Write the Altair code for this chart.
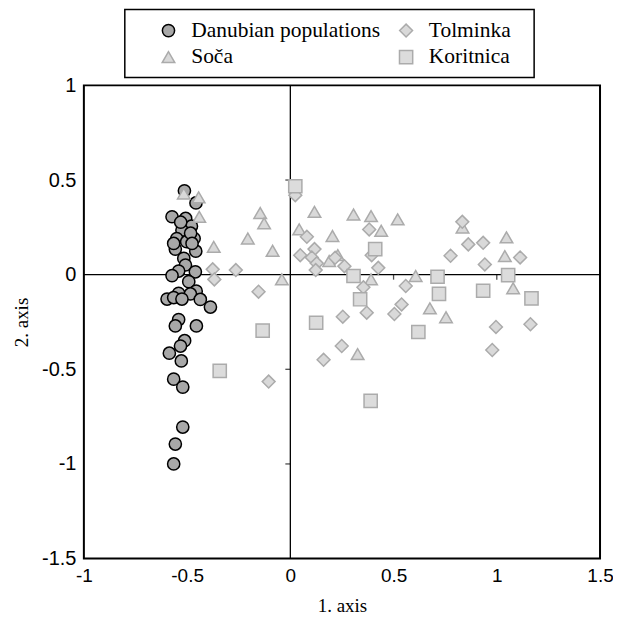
import altair as alt
import pandas as pd

# ---- data ----
danube_x = [-0.513, -0.457, -0.573, -0.507, -0.479, -0.525, -0.550, -0.466, -0.502, -0.557,
            -0.458, -0.565, -0.516, -0.508, -0.541, -0.460, -0.573, -0.492, -0.456, -0.541,
            -0.484, -0.597, -0.565, -0.525, -0.436, -0.387, -0.541, -0.557, -0.455, -0.512,
            -0.532, -0.586, -0.528, -0.565, -0.521, -0.521, -0.557, -0.565, -0.483, -0.531, -0.476]
danube_y = [0.443, 0.379, 0.306, 0.297, 0.256, 0.235, 0.191, 0.191, 0.174, 0.135,
            0.124, 0.165, 0.086, 0.051, 0.019, 0.015, -0.005, -0.037, -0.087, -0.099,
            -0.102, -0.129, -0.121, -0.129, -0.131, -0.171, -0.237, -0.271, -0.271, -0.349,
            -0.377, -0.415, -0.456, -0.552, -0.594, -0.805, -0.895, -1.0, 0.219, 0.277, 0.165]

tolminka_x = [-0.376, -0.264, -0.368, -0.154, 0.024, 0.080, 0.117, 0.048, 0.104, 0.128,
              0.123, 0.217, 0.262, 0.382, 0.394, 0.426, 0.354, 0.559, 0.539, 0.504,
              0.370, 0.254, 0.833, 0.862, 0.934, 0.776, 0.942, 1.113, 0.996, 1.163,
              0.249, 0.161, -0.105, 0.978]
tolminka_y = [0.028, 0.024, -0.025, -0.090, 0.420, 0.200, 0.135, 0.103, 0.091, 0.060,
              0.024, 0.089, 0.045, 0.239, 0.103, 0.036, -0.067, -0.060, -0.157, -0.208,
              -0.201, -0.222, 0.279, 0.160, 0.168, 0.100, 0.054, 0.091, -0.276, -0.262,
              -0.377, -0.450, -0.565, -0.398]

soca_x = [-0.516, -0.444, -0.441, -0.371, -0.206, -0.146, -0.127, 0.117, 0.306, 0.391,
          0.520, 0.043, 0.440, 0.204, -0.086, 0.230, 0.188, -0.041, 0.391, 0.607,
          0.834, 1.047, 1.039, 1.079, 0.676, 0.754, 0.326]
soca_y = [0.429, 0.408, 0.305, 0.147, 0.191, 0.326, 0.271, 0.332, 0.318, 0.309,
          0.292, 0.239, 0.232, 0.204, 0.126, 0.103, 0.072, -0.025, -0.025, -0.007,
          0.249, 0.197, 0.098, -0.072, -0.178, -0.225, -0.420]

koritnica_x = [0.024, 0.411, 0.306, 0.338, 0.125, -0.134, 0.620, 0.713, 0.720, 0.934,
               1.055, 1.168, 0.389, -0.342]
koritnica_y = [0.467, 0.135, -0.007, -0.130, -0.254, -0.296, -0.303, -0.011, -0.101, -0.085,
               -0.002, -0.125, -0.667, -0.508]

groups = ["Danubian populations", "Soča", "Tolminka", "Koritnica"]
shapes = ["circle", "triangle-up", "diamond", "square"]
fills = ["#a8a8a8", "#d9d9d9", "#d9d9d9", "#dcdcdc"]
strokes = ["#000000", "#ababab", "#ababab", "#ababab"]
sizes = [150, 175, 140, 150]

x_ticks = [-1, -0.5, 0, 0.5, 1, 1.5]
y_ticks = [-1.5, -1, -0.5, 0, 0.5, 1]
inner_x_ticks = [-0.5, 0.5, 1]
inner_y_ticks = [0.5, -0.5, -1]

rows = []
for g, xs, ys in [("Danubian populations", danube_x, danube_y),
                  ("Soča", soca_x, soca_y),
                  ("Tolminka", tolminka_x, tolminka_y),
                  ("Koritnica", koritnica_x, koritnica_y)]:
    for a, b in zip(xs, ys):
        rows.append({"x": a, "y": b, "group": g})
df = pd.DataFrame(rows)

xscale = alt.Scale(domain=[-1, 1.5], nice=False, zero=False)
yscale = alt.Scale(domain=[-1.5, 1], nice=False, zero=False)

xaxis = alt.Axis(values=x_ticks, title="1. axis", grid=False, ticks=False, domain=False,
                 labelFont="Liberation Sans", labelFontSize=19, labelColor="black",
                 labelPadding=8, labelExpr="'' + datum.value", labelFlush=False,
                 titleFont="Liberation Serif", titleFontSize=19, titleFontWeight="normal",
                 titleColor="black", titlePadding=11)
yaxis = alt.Axis(values=y_ticks, title="2. axis", grid=False, ticks=False, domain=False,
                 labelFont="Liberation Sans", labelFontSize=20, labelColor="black",
                 labelPadding=8, labelExpr="'' + datum.value", labelFlush=False,
                 titleFont="Liberation Serif", titleFontSize=19, titleFontWeight="normal",
                 titleColor="black", titlePadding=10)

legend = alt.Legend(title=None, orient="none", legendX=74, legendY=-66, columns=2,
                    labelFont="Liberation Serif", labelFontSize=21.5, labelColor="black",
                    labelOffset=12, labelLimit=400, rowPadding=4, columnPadding=15,
                    symbolSize=144, symbolStrokeWidth=1.5, padding=0)

legend_box = alt.Chart(pd.DataFrame({"a": [0]})).mark_rect(
    fill="white", stroke="black", strokeWidth=1.5
).encode(x=alt.value(41), x2=alt.value(451), y=alt.value(-76), y2=alt.value(-8))

zero_v = alt.Chart(pd.DataFrame({"x": [0]})).mark_rule(color="black", strokeWidth=1.3).encode(
    x=alt.X("x:Q", scale=xscale, axis=xaxis))
zero_h = alt.Chart(pd.DataFrame({"y": [0]})).mark_rule(color="black", strokeWidth=1.3).encode(
    y=alt.Y("y:Q", scale=yscale, axis=yaxis))

tick_x = alt.Chart(pd.DataFrame({"x": inner_x_ticks, "y": [0] * len(inner_x_ticks)})).mark_tick(
    orient="vertical", size=5, thickness=1.3, color="black", yOffset=2.5
).encode(x=alt.X("x:Q", scale=xscale), y=alt.Y("y:Q", scale=yscale))
tick_y = alt.Chart(pd.DataFrame({"y": inner_y_ticks, "x": [0] * len(inner_y_ticks)})).mark_tick(
    orient="horizontal", size=5, thickness=1.3, color="black", xOffset=-2.5
).encode(x=alt.X("x:Q", scale=xscale), y=alt.Y("y:Q", scale=yscale))

points = alt.Chart(df).mark_point(filled=True, strokeWidth=1.5, opacity=1).encode(
    x=alt.X("x:Q", scale=xscale, axis=xaxis),
    y=alt.Y("y:Q", scale=yscale, axis=yaxis),
    shape=alt.Shape("group:N", scale=alt.Scale(domain=groups, range=shapes), legend=legend),
    fill=alt.Fill("group:N", scale=alt.Scale(domain=groups, range=fills), legend=legend),
    stroke=alt.Stroke("group:N", scale=alt.Scale(domain=groups, range=strokes), legend=legend),
    size=alt.Size("group:N", scale=alt.Scale(domain=groups, range=sizes), legend=legend),
)

chart = alt.layer(legend_box, zero_v, zero_h, tick_x, tick_y, points).properties(
    width=517, height=474,
    autosize=alt.AutoSizeParams(type="none"),
    padding={"left": 76, "top": 77, "right": 13, "bottom": 58},
).configure_view(stroke="black", strokeWidth=2)

chart.save("out.html", embed_options={"renderer": "svg", "actions": False})
